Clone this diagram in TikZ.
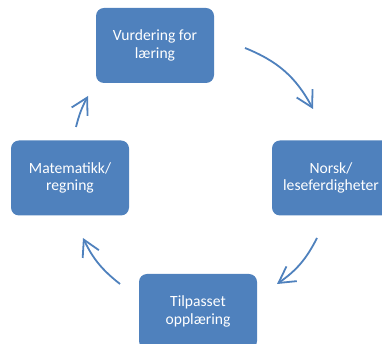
\documentclass[tikz,border=0pt]{standalone}
\usepackage{fontspec}
\setmainfont{Carlito}
\usetikzlibrary{arrows.meta}
\definecolor{boxblue}{HTML}{4F81BD}
\tikzset{
  cyclebox/.style={fill=boxblue, draw=none, rounded corners=8pt, minimum width=118pt, minimum height=75pt, inner sep=0pt, text=white, align=center, font=\fontsize{15.6}{17.5}\selectfont},
  cyclearrow/.style={draw=boxblue, line width=1.8pt, -{Straight Barb[length=16pt, width=18pt, line width=1.8pt]}, bend left=18}
}
\begin{document}
\begin{tikzpicture}[x=1pt,y=1pt]
\useasboundingbox (0,0) rectangle (382,344);
\clip (0,0) rectangle (382,344);
\node[cyclebox] (top) at (155,298.5) {Vurdering for\\læring};
\node[cyclebox] (right) at (331,166) {Norsk/\\leseferdigheter};
\node[cyclebox] (bottom) at (198,32.5) {Tilpasset\\opplæring};
\node[cyclebox] (left) at (70,166) {Matematikk/\\regning};
\coordinate (a1s) at (245,296);
\coordinate (a1e) at (313,235);
\coordinate (a2s) at (317,106);
\coordinate (a2e) at (277,60);
\coordinate (a3s) at (120,60);
\coordinate (a3e) at (83,106);
\coordinate (a4s) at (76,217);
\coordinate (a4e) at (88,248);
\draw[cyclearrow, bend left=20] (a1s) to (a1e);
\draw[cyclearrow, bend left=14] (a2s) to (a2e);
\draw[cyclearrow, bend left=13] (a3s) to (a3e);
\draw[cyclearrow, bend left=7] (a4s) to (a4e);
\end{tikzpicture}
\end{document}
